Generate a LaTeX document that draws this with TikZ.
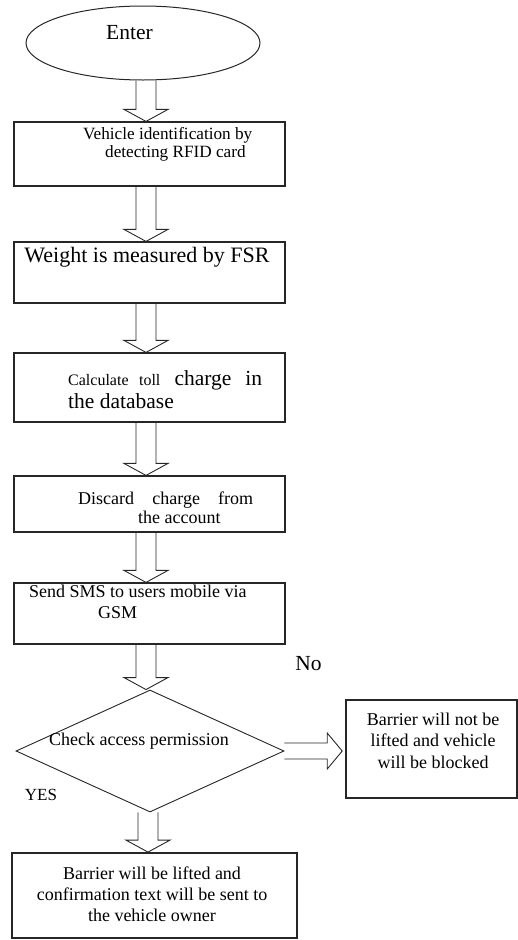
\documentclass[tikz,border=0pt]{standalone}
\usepackage{fontspec}
\setmainfont{Liberation Serif}
\usetikzlibrary{shapes.geometric,calc}
\tikzset{
  box/.style={draw=black!85, line width=1.2pt, minimum width=271pt, inner sep=0pt},
  txt/.style={inner sep=0pt, font=\fontsize{18}{18.5}\selectfont},
  flow/.style={draw=black!85, line width=0.9pt, fill=white},
}
% hollow block arrow going down, from #1 to #2, in the column of #3
\newcommand{\flowdown}[3]{%
  \draw ($(#1.south -| #3)+(-10,0)$) -- ($(#2.north -| #3)+(-10,-12)$) -- ++(-12,0)
    -- (#2.north -| #3) -- ++(22,-12) -- ++(-12,0) -- ($(#1.south -| #3)+(10,0)$);
}
\begin{document}
\begin{tikzpicture}[x=1pt,y=-1pt]
  \useasboundingbox (0,0) rectangle (518,940);
  \coordinate (col) at (146,0);
  \coordinate (col2) at (148,0);
  \draw
    (143,43) node[ellipse, draw=black!85, line width=1pt, minimum width=234pt, minimum height=74pt] (enter){}
    (149.5,154) node[box, minimum height=64pt] (rfid){}
    (149.5,272.5) node[box, minimum height=61pt] (fsr){}
    (149.5,387.5) node[box, minimum height=69pt] (calc){}
    (149.5,504) node[box, minimum height=56pt] (acct){}
    (149.5,613.5) node[box, minimum height=61pt] (sms){}
    (150,751) node[diamond, draw=black!85, line width=0.9pt, inner sep=0pt, minimum width=268pt, minimum height=122pt] (check){}
    (431.5,749) node[box, minimum width=171pt, minimum height=98pt, line width=1.6pt] (blocked){}
    (154.5,895.5) node[box, minimum width=285pt, minimum height=85pt, line width=1.8pt] (lifted){};
  \begin{scope}[flow]
    \flowdown{enter}{rfid}{col}
    \flowdown{rfid}{fsr}{col}
    \flowdown{fsr}{calc}{col}
    \flowdown{calc}{acct}{col}
    \flowdown{acct}{sms}{col}
    \flowdown{sms}{check}{col}
    \flowdown{check}{lifted}{col2}
    \draw ($(check.east)+(0,-8)$) -- ($(check.east -| blocked.west)+(-18,-8)$) -- ++(0,-10)
      -- ($(check.east -| blocked.west)+(-3,0)$) -- ++(-15,18) -- ++(0,-10) -- ($(check.east)+(0,8)$);
  \end{scope}
  % texts (multi-line ones sit on the baseline of their last line)
  \draw
    (129.5,39) node[txt, anchor=base, font=\fontsize{21.5}{22}\selectfont] (enterT){Enter}
    (83,157) node[txt, anchor=base west, align=left, font=\fontsize{17.2}{18}\selectfont] (rfidT){Vehicle identification by\\\hspace*{22pt}detecting RFID card}
    (147,262) node[txt, anchor=base, font=\fontsize{22}{24}\selectfont] (fsrT){Weight is measured by FSR}
    (68,408) node[txt, anchor=base west, align=left, font=\fontsize{21.5}{23}\selectfont] (calcT){\makebox[194pt][s]{{\fontsize{16}{16}\selectfont Calculate toll} charge in}\\the database}
    (78,523) node[txt, anchor=base west, align=left] (acctT){\makebox[175pt][s]{Discard charge from}\\\hspace*{60pt}the account}
    (29,618) node[txt, anchor=base west, align=left, font=\fontsize{18}{21}\selectfont] (smsT){Send SMS to users mobile via\\\hspace*{69pt}GSM}
    (308.5,670) node[txt, anchor=base, font=\fontsize{21.5}{22}\selectfont] (noT){No}
    (139,745) node[txt, anchor=base] (checkT){Check access permission}
    (433,768) node[txt, anchor=base, align=center, font=\fontsize{18}{21.5}\selectfont] (blockedT){Barrier will not be\\lifted and vehicle\\will be blocked}
    (41,800) node[txt, anchor=base, font=\fontsize{17}{17}\selectfont] (yesT){YES}
    (152,921) node[txt, anchor=base, align=center, font=\fontsize{18}{21}\selectfont] (liftedT){Barrier will be lifted and\\confirmation text will be sent to\\the vehicle owner};
\end{tikzpicture}
\end{document}
